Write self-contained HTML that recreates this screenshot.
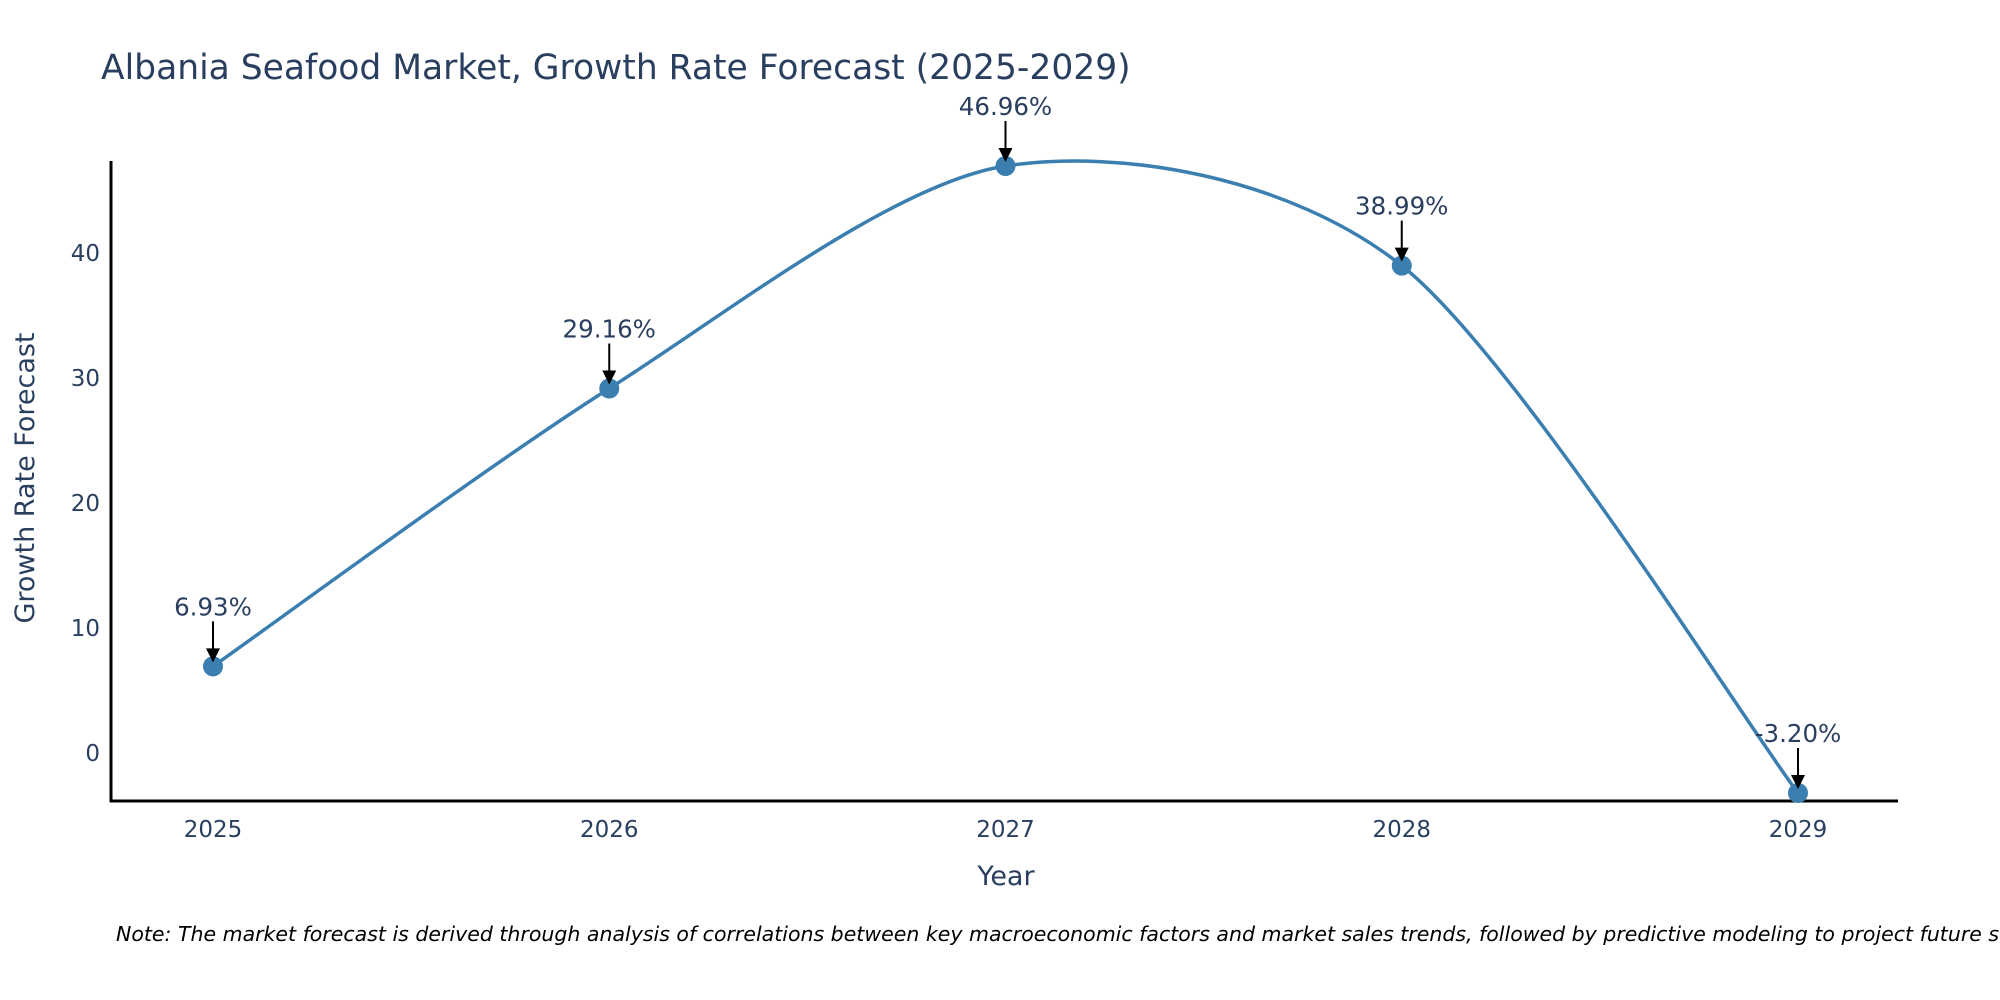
<!DOCTYPE html>
<html><head><meta charset="utf-8"><style>
body{margin:0;background:#fff;}
svg{display:block;font-family:"DejaVu Sans","Liberation Sans",sans-serif;}
</style></head><body>
<svg width="2000" height="1000" viewBox="0 0 2000 1000">
<text x="101" y="79" font-size="34.5" fill="#2a3f5f">Albania Seafood Market, Growth Rate Forecast (2025-2029)</text>
<g id="yticks"></g><g id="xticks"></g>
<line x1="111" y1="161" x2="111" y2="802" stroke="#000" stroke-width="3"/>
<line x1="110" y1="801" x2="1898" y2="801" stroke="#000" stroke-width="3"/>
<text transform="translate(34,478) rotate(-90)" text-anchor="middle" font-size="27" fill="#2a3f5f">Growth Rate Forecast</text>
<text x="1006" y="885" text-anchor="middle" font-size="27" fill="#2a3f5f">Year</text>
<path id="line" fill="none" stroke="#3b7fb1" stroke-width="3.5"/>
<g id="marks"></g>
<text x="116" y="941" font-size="20.5" font-style="italic" fill="#000">Note: The market forecast is derived through analysis of correlations between key macroeconomic factors and market sales trends, followed by predictive modeling to project future sales.</text>
</svg>
<script>
const years = ["2025","2026","2027","2028","2029"];
const values = [6.93, 29.16, 46.96, 38.99, -3.20];
const yTickValues = [0,10,20,30,40];
const NS="http://www.w3.org/2000/svg";
function xs(i){return 213+i*396.25;}
function ys(v){return 753-12.5*v;}
function mk(tag,attrs,parent){const e=document.createElementNS(NS,tag);for(const k in attrs)e.setAttribute(k,attrs[k]);parent.appendChild(e);return e;}
const yt=document.getElementById('yticks');
yTickValues.forEach(v=>{const t=mk('text',{x:100,y:ys(v)+8,'text-anchor':'end','font-size':23,fill:'#2a3f5f'},yt);t.textContent=v;

});
const xt=document.getElementById('xticks');
years.forEach((y,i)=>{const t=mk('text',{x:xs(i),y:837,'text-anchor':'middle','font-size':23,fill:'#2a3f5f'},xt);t.textContent=y;

});
const P=values.map((v,i)=>[xs(i),ys(v)]);
const k=7;
let d="M"+P[0][0]+","+P[0][1];
for(let i=0;i<P.length-1;i++){const p0=P[Math.max(0,i-1)],p1=P[i],p2=P[i+1],p3=P[Math.min(P.length-1,i+2)];
const c1=[p1[0]+(p2[0]-p0[0])/k,p1[1]+(p2[1]-p0[1])/k],c2=[p2[0]-(p3[0]-p1[0])/k,p2[1]-(p3[1]-p1[1])/k];
d+=" C"+c1+" "+c2+" "+p2;}
document.getElementById('line').setAttribute('d',d);
const g=document.getElementById('marks');
values.forEach((v,i)=>{const x=xs(i),y=ys(v);
const c=mk('circle',{cx:x,cy:y,r:10,fill:'#3b7fb1'},g);


const l=mk('line',{x1:x,y1:y-45,x2:x,y2:y-16,stroke:'#000','stroke-width':2},g);


const a=mk('polygon',{points:`${x-7},${y-18} ${x+7},${y-18} ${x},${y-4}`,fill:'#000'},g);


const t=mk('text',{x:x,y:y-51,'text-anchor':'middle','font-size':24.5,fill:'#2a3f5f'},g);t.textContent=v.toFixed(2)+"%";

});
</script>
</body></html>
